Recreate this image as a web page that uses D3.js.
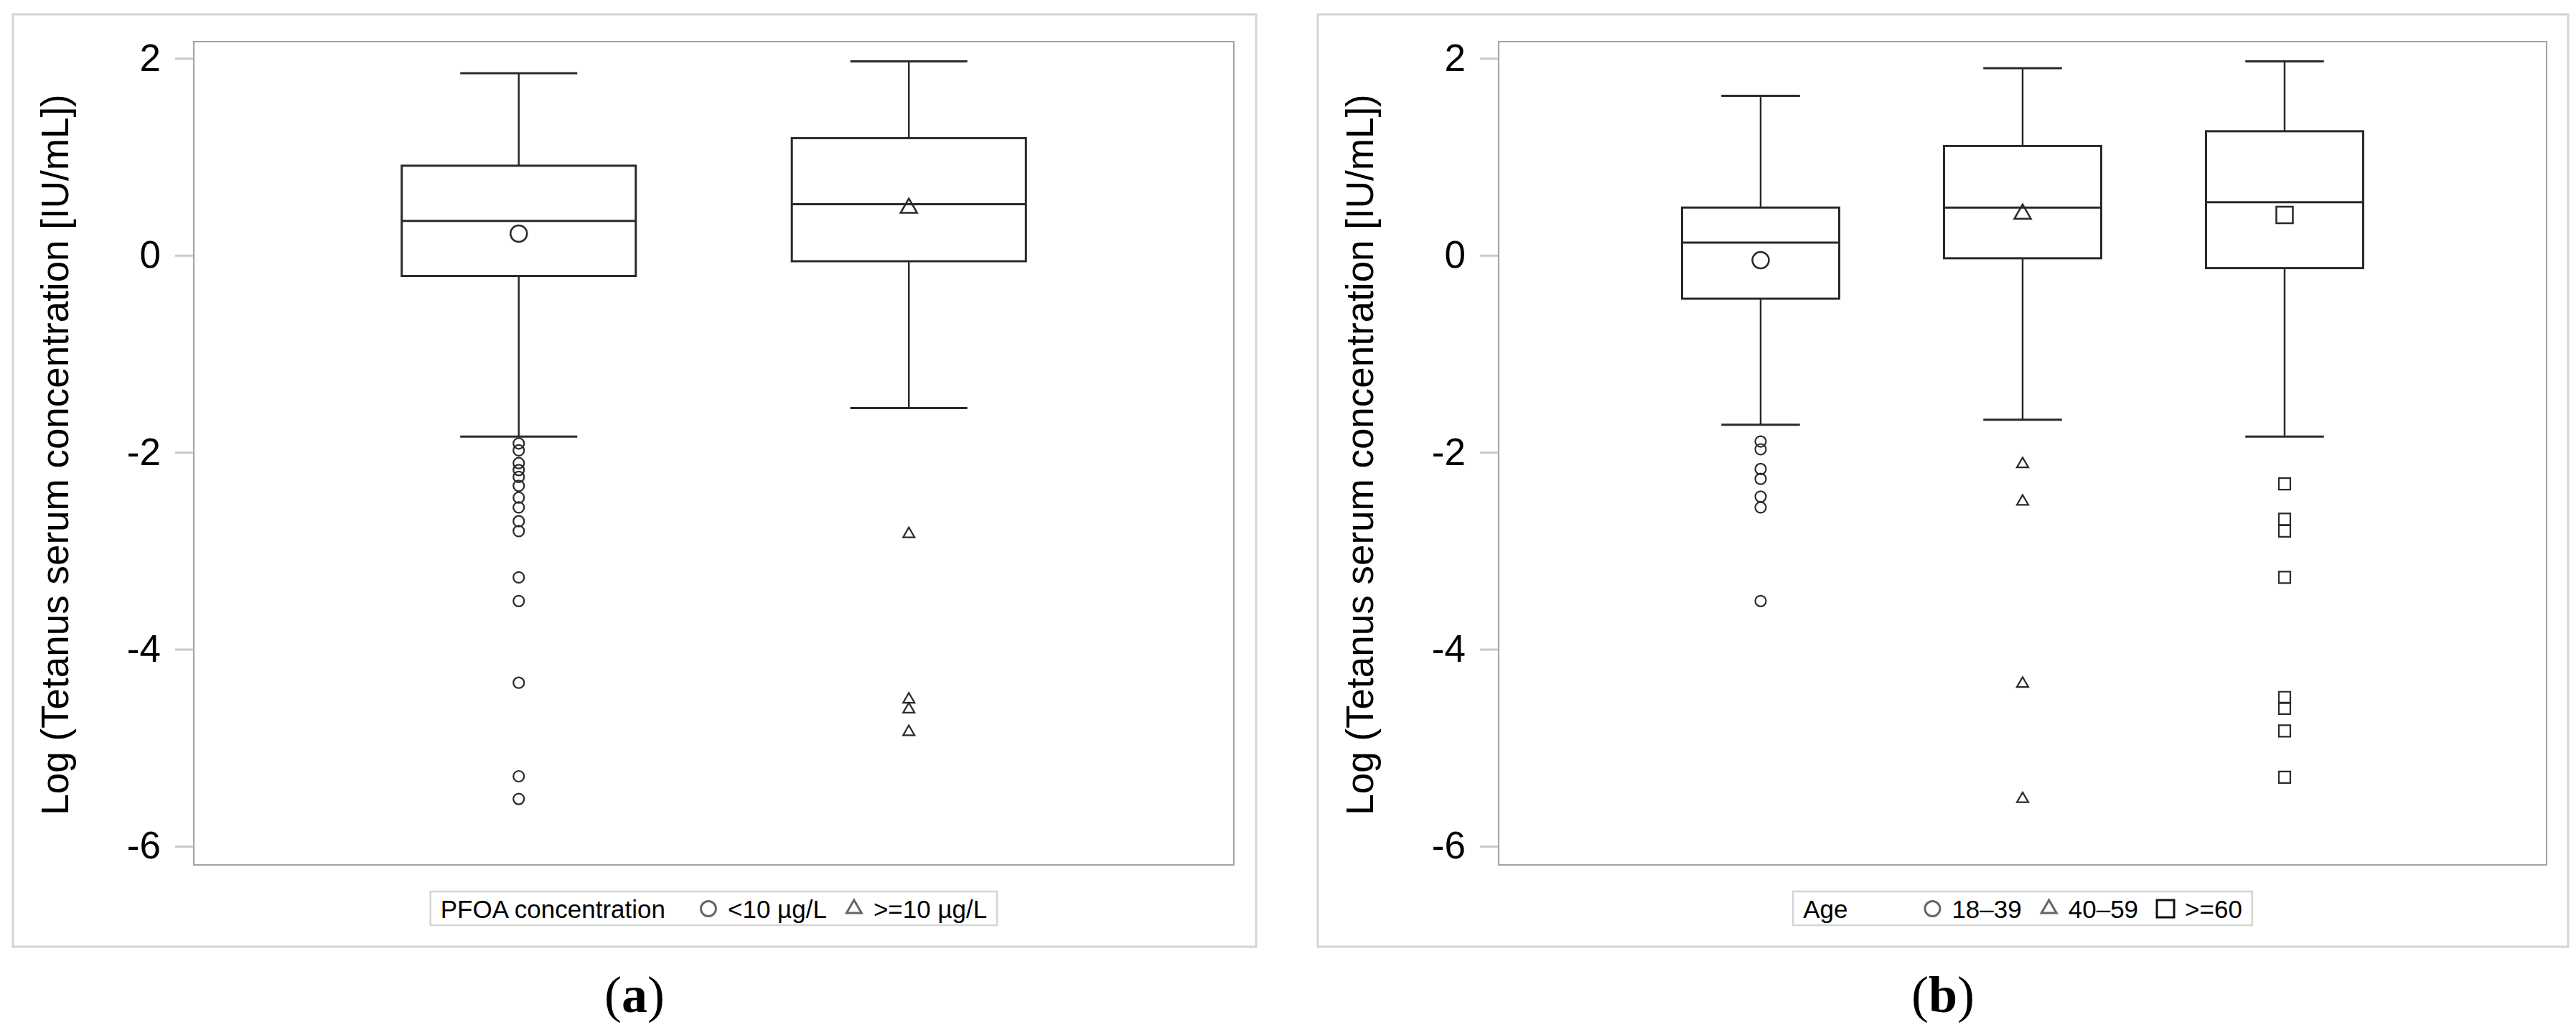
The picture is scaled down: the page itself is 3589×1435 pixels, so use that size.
<!doctype html>
<html>
<head>
<meta charset="utf-8">
<style>
body { margin: 0; background: #fff; }
text { font-family: "Liberation Sans", Arial, sans-serif; }
</style>
<script src="https://d3js.org/d3.v7.min.js"></script>
</head>
<body>
<svg width="3589" height="1435"></svg>
<script>
// ---- data: panel (a) PFOA concentration ----
var pfoaGroups = ["<10 µg/L", ">=10 µg/L"];
var pfoaUpper = [1.85, 1.97];
var pfoaQ3 = [0.91, 1.19];
var pfoaMedian = [0.35, 0.52];
var pfoaMean = [0.22, 0.48];
var pfoaQ1 = [-0.21, -0.06];
var pfoaLower = [-1.84, -1.55];
var pfoaOutliers = [
  [-1.91, -1.98, -2.11, -2.18, -2.25, -2.34, -2.46, -2.56, -2.70, -2.80, -3.27, -3.51, -4.34, -5.29, -5.52],
  [-2.83, -4.51, -4.61, -4.84]
];

// ---- data: panel (b) Age ----
var ageGroups = ["18–39", "40–59", ">=60"];
var ageUpper = [1.62, 1.90, 1.97];
var ageQ3 = [0.485, 1.11, 1.26];
var ageMedian = [0.13, 0.485, 0.54];
var ageMean = [-0.05, 0.42, 0.41];
var ageQ1 = [-0.44, -0.03, -0.13];
var ageLower = [-1.72, -1.67, -1.84];
var ageOutliers = [
  [-1.89, -1.97, -2.17, -2.27, -2.45, -2.56, -3.51],
  [-2.12, -2.50, -4.35, -5.52],
  [-2.32, -2.68, -2.80, -3.27, -4.49, -4.60, -4.83, -5.30]
];

var yTicks = [2, 0, -2, -4, -6];
var yTitle = "Log (Tetanus serum concentration [IU/mL])";

var svg = d3.select("svg");

var shapes = ["circle", "triangle", "square"];
function markerPath(shape, size) {
  // size ~ visual width in px
  if (shape == "circle") return d3.symbol().type(d3.symbolCircle).size(Math.PI * size * size / 4)();
  if (shape == "triangle") return d3.symbol().type(d3.symbolTriangle).size(Math.sqrt(3) / 4 * size * size)();
  return d3.symbol().type(d3.symbolSquare).size(size * size)();
}

function drawPanel(cfg) {
  var g = svg.append("g");
  var o = cfg.outer, p = cfg.plot;

  g.append("rect").attr("x", o[0]).attr("y", o[1])
    .attr("width", o[2] - o[0]).attr("height", o[3] - o[1])
    .attr("fill", "none").attr("stroke", "#d4d4d4").attr("stroke-width", 3);

  var y = d3.scaleLinear().domain([-6.19, 2.17]).range([p[3], p[1]]);
  var x = d3.scalePoint().domain(cfg.groups).range([p[0], p[2]]).padding(cfg.padding);
  var step = x.step();
  var bw = step * 0.6, cw = step * 0.3;

  var axis = g.append("g").attr("transform", "translate(" + p[0] + ",0)")
    .call(d3.axisLeft(y).tickValues(yTicks).tickSize(26).tickPadding(20).tickFormat(d3.format("d")));
  axis.select(".domain").remove();
  axis.selectAll(".tick line").attr("stroke", "#c9c9c9").attr("stroke-width", 3);
  axis.selectAll(".tick text").attr("font-size", 53).attr("fill", "#000")
    .attr("font-family", "Liberation Sans, Arial, sans-serif").text(function(d) { return d < 0 ? "-" + (-d) : d; });

  g.append("text")
    .attr("transform", "translate(" + (o[0] + 77) + "," + ((p[1] + p[3]) / 2 + 2) + ") rotate(-90)")
    .attr("text-anchor", "middle").attr("font-size", 53).text(yTitle);

  g.append("rect").attr("x", p[0]).attr("y", p[1])
    .attr("width", p[2] - p[0]).attr("height", p[3] - p[1])
    .attr("fill", "none").attr("stroke", "#9ea3a8").attr("stroke-width", 2);

  cfg.groups.forEach(function(grp, i) {
    var cx = x(grp);
    var bg = g.append("g").attr("stroke", "#2a2a2a").attr("fill", "none");
    bg.append("line").attr("x1", cx).attr("x2", cx).attr("y1", y(cfg.q3[i])).attr("y2", y(cfg.upper[i])).attr("stroke-width", 2.5);
    bg.append("line").attr("x1", cx).attr("x2", cx).attr("y1", y(cfg.q1[i])).attr("y2", y(cfg.lower[i])).attr("stroke-width", 2.5);
    bg.append("line").attr("x1", cx - cw / 2).attr("x2", cx + cw / 2).attr("y1", y(cfg.upper[i])).attr("y2", y(cfg.upper[i])).attr("stroke-width", 3);
    bg.append("line").attr("x1", cx - cw / 2).attr("x2", cx + cw / 2).attr("y1", y(cfg.lower[i])).attr("y2", y(cfg.lower[i])).attr("stroke-width", 3);
    bg.append("rect").attr("x", cx - bw / 2).attr("width", bw)
      .attr("y", y(cfg.q3[i])).attr("height", y(cfg.q1[i]) - y(cfg.q3[i]))
      .attr("fill", "#fff").attr("stroke-width", 3);
    bg.append("line").attr("x1", cx - bw / 2).attr("x2", cx + bw / 2).attr("y1", y(cfg.median[i])).attr("y2", y(cfg.median[i])).attr("stroke-width", 3);
    bg.append("path").attr("d", markerPath(shapes[i], 23))
      .attr("transform", "translate(" + cx + "," + y(cfg.mean[i]) + ")")
      .attr("stroke-width", 2.5);
    bg.selectAll(".out").data(cfg.outliers[i]).enter().append("path")
      .attr("class", "out")
      .attr("d", markerPath(shapes[i], shapes[i] == "circle" ? 15 : 16))
      .attr("transform", function(d) { return "translate(" + cx + "," + y(d) + ")"; })
      .attr("stroke-width", 2.2);
  });

  // legend
  var lg = g.append("g");
  var ty = 1279;
  var items = [];
  var title = lg.append("text").attr("font-size", 35).attr("y", ty).text(cfg.legendTitle);
  var pos = 14 + title.node().getComputedTextLength() + cfg.titleGap;
  cfg.groups.forEach(function(grp, i) {
    var sym = lg.append("path").attr("d", markerPath(shapes[i], shapes[i] == "square" ? 24 : 21))
      .attr("fill", "none").attr("stroke", shapes[i] == "square" ? "#111" : "#666").attr("stroke-width", 3)
      .attr("transform", "translate(" + pos + ",1266)");
    var t = lg.append("text").attr("font-size", 35).attr("y", ty).attr("x", pos + 27).text(grp);
    pos = pos + 27 + t.node().getComputedTextLength();
    if (i < cfg.groups.length - 1) pos += 38;
  });
  title.attr("x", 14);
  var lw = pos + 14;
  lg.insert("rect", ":first-child").attr("x", 0).attr("y", 1242).attr("width", lw).attr("height", 47)
    .attr("fill", "#fff").attr("stroke", "#d4d4d4").attr("stroke-width", 2.5);
  lg.attr("transform", "translate(" + ((p[0] + p[2]) / 2 - lw / 2) + ",0)");

  var lab = svg.append("text").attr("x", (o[0] + o[2]) / 2).attr("y", 1410)
    .attr("text-anchor", "middle").attr("font-size", 72)
    .style("font-family", "Liberation Serif, Times New Roman, serif");
  lab.append("tspan").text("(");
  lab.append("tspan").attr("font-weight", "bold").text(cfg.tag);
  lab.append("tspan").text(")");
}

drawPanel({
  outer: [18, 20, 1750, 1319], plot: [270, 58, 1719, 1205], padding: 0.833,
  groups: pfoaGroups, upper: pfoaUpper, q3: pfoaQ3, median: pfoaMedian, mean: pfoaMean,
  q1: pfoaQ1, lower: pfoaLower, outliers: pfoaOutliers,
  legendTitle: "PFOA concentration", titleGap: 60, tag: "a"
});
drawPanel({
  outer: [1836, 20, 3578, 1319], plot: [2088, 58, 3548, 1205], padding: 1.0,
  groups: ageGroups, upper: ageUpper, q3: ageQ3, median: ageMedian, mean: ageMean,
  q1: ageQ1, lower: ageLower, outliers: ageOutliers,
  legendTitle: "Age", titleGap: 118, tag: "b"
});
</script>
</body>
</html>
